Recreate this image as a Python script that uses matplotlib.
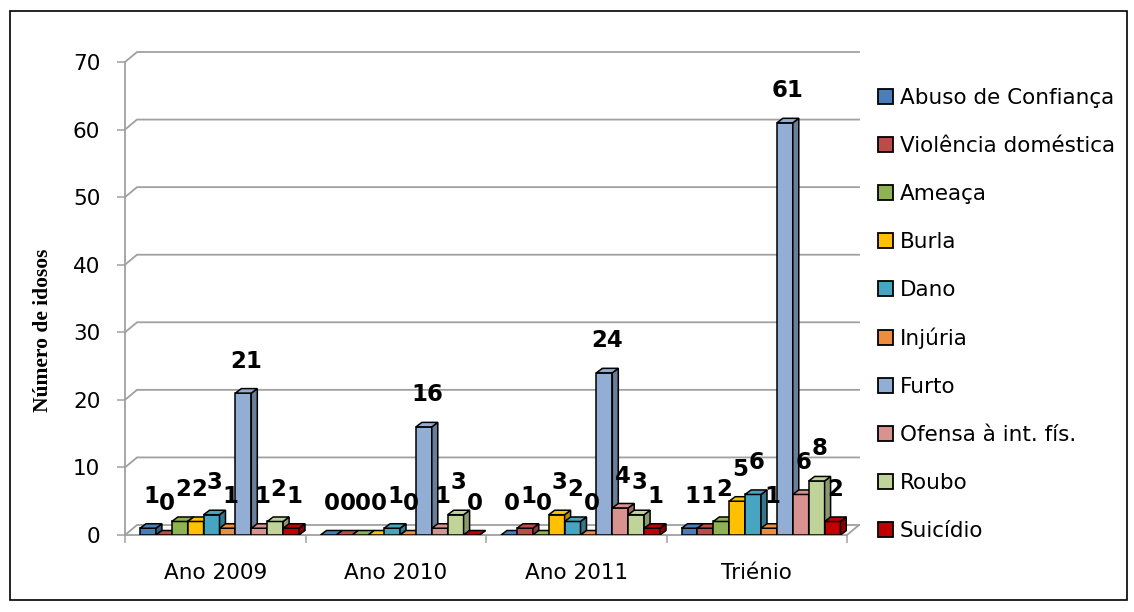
import numpy as np
import matplotlib.pyplot as plt
from matplotlib.patches import Polygon, Patch, Rectangle
from matplotlib.colors import to_rgb

categories = ['Ano 2009', 'Ano 2010', 'Ano 2011', 'Triénio']
series = ['Abuso de Confiança', 'Violência doméstica', 'Ameaça', 'Burla', 'Dano',
          'Injúria', 'Furto', 'Ofensa à int. fís.', 'Roubo', 'Suicídio']

abuso = [1, 0, 0, 1]
violencia = [0, 0, 1, 1]
ameaca = [2, 0, 0, 2]
burla = [2, 0, 3, 5]
dano = [3, 1, 2, 6]
injuria = [1, 0, 0, 1]
furto = [21, 16, 24, 61]
ofensa = [1, 1, 4, 6]
roubo = [2, 3, 3, 8]
suicidio = [1, 0, 1, 2]
values = [abuso, violencia, ameaca, burla, dano, injuria, furto, ofensa, roubo, suicidio]

colors = ['#4A7EBB', '#BE4B48', '#8FB352', '#FFC000', '#46A5C0',
          '#EE8D3E', '#93AED4', '#D8928F', '#C0D49A', '#C00000']
yticks = np.arange(0, 71, 10)

W, H = 1134, 612
fig = plt.figure(figsize=(W / 100, H / 100), dpi=100)
ax = fig.add_axes([125 / W, 77 / H, 722 / W, 473 / H])
ax.set_xlim(-0.5, 3.5)
ax.set_ylim(0, 70)

# pixel -> data conversions for the fake 3d look
pxx = 722 / 4.
pxy = 473 / 70.
wdx, wdy = 12 / pxx, 10 / pxy
bdx, bdy = 6 / pxx, 4.5 / pxy
grid = '#A0A0A0'

for v in yticks:
    ax.plot([-0.5, -0.5 + wdx, 3.5 + wdx], [v, v + wdy, v + wdy],
            color=grid, lw=1.3, clip_on=False, zorder=1)
ax.plot([3.5, 3.5 + wdx], [0, wdy], color=grid, lw=1.3, clip_on=False, zorder=1)


def shade(c, f):
    r, g, b = to_rgb(c)
    return (r * f, g * f, b * f)


x = np.arange(len(categories))
bw = 15.9 / pxx
start = 15 / pxx
for j, (vals, c) in enumerate(zip(values, colors)):
    left = x - 0.5 + start + j * bw
    z = 3 + j
    ax.bar(left, vals, width=bw, align='edge', color=c, edgecolor='black',
           lw=1.1, zorder=z)
    for x0, v in zip(left, vals):
        x1 = x0 + bw
        top = Polygon([(x0, v), (x1, v), (x1 + bdx, v + bdy), (x0 + bdx, v + bdy)],
                      closed=True, fc=c, ec='black', lw=1.1, zorder=z)
        side = Polygon([(x1, 0), (x1, v), (x1 + bdx, v + bdy), (x1 + bdx, bdy)],
                       closed=True, fc=shade(c, 0.72), ec='black', lw=1.1, zorder=z)
        ax.add_patch(side)
        ax.add_patch(top)
        ax.annotate(str(v), (x0 + bw / 2, v), xytext=(2.2, 23),
                    textcoords='offset points', ha='center', va='center',
                    fontsize=16.5, fontweight='bold', zorder=30)

for s in ['top', 'right']:
    ax.spines[s].set_visible(False)
for s in ['left', 'bottom']:
    ax.spines[s].set_color(grid)
    ax.spines[s].set_linewidth(1.3)

ax.set_yticks(yticks)
ax.tick_params(axis='y', length=5.8, width=1.1, color=grid, pad=12, labelsize=15.5)
ax.set_xticks(np.arange(-0.5, 4, 1))
ax.set_xticklabels([])
ax.set_xticks(x, minor=True)
ax.set_xticklabels(categories, minor=True)
ax.tick_params(axis='x', which='major', length=5.8, width=1.1, color=grid)
ax.tick_params(axis='x', which='minor', length=0, pad=20, labelsize=15.5)

fig.text(43 / W, 1 - 330 / H, 'Número de idosos', rotation=90,
         family='Liberation Serif', fontweight='bold', fontsize=15.5,
         ha='center', va='center')

handles = [Patch(fc=c, ec='black', lw=1.3) for c in colors]
ax.legend(handles, series, loc='upper left', bbox_to_anchor=(878 / W, 1 - 88 / H),
          bbox_transform=fig.transFigure, frameon=False, fontsize=15.5,
          handlelength=0.7, handleheight=0.7, handletextpad=0.3,
          labelspacing=1.3, borderpad=0, borderaxespad=0)

fig.patches.append(Rectangle((10 / W, 12 / H), 1117 / W, 589 / H,
                             transform=fig.transFigure, fill=False,
                             ec='black', lw=1.2))

fig.savefig('out.png', dpi=100)
